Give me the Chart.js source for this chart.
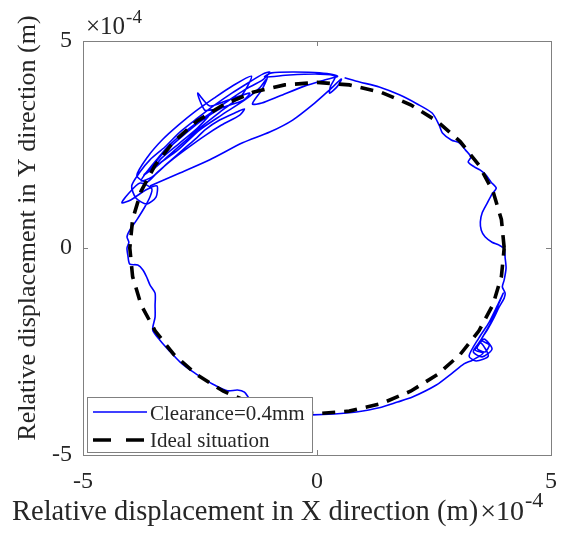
<!DOCTYPE html>
<html>
<head>
<meta charset="utf-8">
<script src="https://cdn.jsdelivr.net/npm/chart.js@4.4.0/dist/chart.umd.min.js"></script>
<style>
  html, body { margin: 0; padding: 0; background: #fff; }
  #wrap { width: 569px; height: 539px; }
</style>
</head>
<body>
<div id="wrap"><canvas id="orbitChart" width="569" height="539"></canvas></div>
<script>
// valeurs en unités de 1e-4 m (le facteur ×10^-4 est affiché à part)
const clearanceX = [
  0.59, 0.91, 1.33, 1.76, 2.14, 2.46, 2.61, 2.68, 2.87, 3.04, 3.17, 3.29, 3.23, 3.36, 3.49, 3.61,
  3.72, 3.83, 3.74, 3.64, 3.53, 3.49, 3.51, 3.59, 3.74, 3.89, 4.00, 4.02, 4.04, 4.00, 3.96, 4.02,
  4.00, 3.89, 3.78, 3.64, 3.51, 3.68, 3.59, 3.42, 3.57, 3.74, 3.53, 3.34, 3.49, 3.66, 3.40, 3.25,
  3.46, 3.68, 3.85, 3.98, 3.89, 3.72, 3.53, 3.38, 3.55, 3.32,
  3.14, 2.87, 2.55, 2.04, 1.72, 1.33, 0.84, 0.37, -0.10, -0.59, -1.01, -1.33, -1.46, -1.55, -1.70, -1.91,
  -2.19, -2.42, -2.68, -2.93, -3.15, -3.36, -3.51, -3.46, -3.46, -3.46, -3.57, -3.64, -3.72, -3.83, -4.00, -4.04,
  -4.06, -4.02, -4.06, -4.00, -3.85, -3.68, -3.57, -3.53,
  -3.78, -4.04, -4.17, -3.98, -3.66, -3.42, -3.44, -3.64, -3.87, -3.96, -3.78, -3.57, -3.25, -2.93, -2.55, -2.19,
  -1.82, -1.44, -1.16, -1.01, -1.16, -1.55, -1.97, -2.40, -2.83, -3.15, -3.40, -3.61, -3.76, -3.53, -3.21, -2.85,
  -2.57, -2.40, -2.08, -1.70, -1.55, -1.65, -2.04, -2.40, -2.76, -3.10, -3.40, -3.64,
  -3.85, -3.62, -3.30, -2.95, -2.60, -2.20, -1.80, -1.40, -1.60, -2.00, -2.45, -2.85, -3.20, -3.50,
  -3.32, -2.93, -2.55, -2.23,
  -2.40, -2.55, -2.29, -1.91, -1.44, -1.57, -2.04, -2.51, -2.97, -3.32, -3.53, -3.70, -3.36, -2.97, -2.51, -2.04,
  -1.55, -1.23, -1.06, -1.18, -1.38, -1.18, -0.80, -0.27, 0.16, 0.44, 0.05, -0.48, -0.97, -1.12, -0.59, 0.05,
  0.39, 0.29, 0.27, 0.44, 0.52,
  0.27, -0.05, -0.52, -1.01, -1.59, -2.29, -2.93, -3.57
];
const clearanceY = [
  4.11, 4.01, 3.89, 3.70, 3.48, 3.26, 2.97, 2.78, 2.61, 2.54, 2.37, 2.20, 2.08, 1.96, 1.88, 1.76,
  1.59, 1.45, 1.30, 1.09, 0.85, 0.63, 0.43, 0.27, 0.14, 0.07, -0.02, -0.24, -0.48, -0.77, -0.94, -1.09,
  -1.21, -1.43, -1.69, -1.98, -2.22, -2.34, -2.51, -2.42, -2.20, -2.44, -2.63, -2.51, -2.29, -2.61, -2.73, -2.61,
  -2.17, -1.79, -1.40, -1.09, -1.33, -1.79, -2.17, -2.46, -2.54, -2.71,
  -2.80, -3.04, -3.31, -3.60, -3.72, -3.86, -3.96, -4.01, -4.03, -4.01, -3.94, -3.79, -3.62, -3.48, -3.43, -3.45,
  -3.31, -3.16, -2.97, -2.75, -2.49, -2.22, -1.98, -1.67, -1.38, -1.09, -0.89, -0.70, -0.53, -0.41, -0.39, -0.19,
  0.00, 0.14, 0.27, 0.43, 0.68, 0.99, 1.23, 1.43,
  1.57, 1.30, 1.09, 1.16, 1.40, 1.50, 1.23, 1.06, 1.21, 1.50, 1.84, 2.13, 2.44, 2.80, 3.14, 3.45,
  3.74, 4.01, 4.20, 4.25, 4.06, 3.82, 3.50, 3.16, 2.80, 2.49, 2.17, 1.88, 1.62, 1.71, 2.03, 2.39,
  2.66, 2.85, 3.09, 3.29, 3.36, 3.21, 2.97, 2.71, 2.42, 2.13, 1.84, 1.59,
  1.75, 2.20, 2.62, 2.98, 3.30, 3.62, 3.92, 4.15, 3.70, 3.35, 2.95, 2.55, 2.20, 1.90,
  2.17, 2.54, 2.90, 3.33,
  3.33, 3.74, 3.43, 3.57, 3.74, 3.57, 3.38, 3.04, 2.61, 2.25, 1.96, 1.76, 2.05, 2.37, 2.85, 3.21,
  3.57, 3.86, 4.11, 3.82, 3.48, 3.50, 3.67, 3.91, 4.06, 4.15, 4.23, 4.25, 4.23, 4.13, 4.18, 4.20,
  4.15, 3.91, 3.74, 3.91, 4.08,
  3.82, 3.50, 3.09, 2.80, 2.54, 2.13, 1.81, 1.50
];
const idealX = [
  4.00, 3.94, 3.76, 3.46, 3.06, 2.57, 2.00, 1.37, 0.69, 0.00, -0.69, -1.37, -2.00, -2.57, -3.06, -3.46, -3.76, -3.94,
  -4.00, -3.94, -3.76, -3.46, -3.06, -2.57, -2.00, -1.37, -0.69, 0.00, 0.69, 1.37, 2.00, 2.57, 3.06, 3.46, 3.76, 3.94, 4.00
];
const idealY = [
  0.00, 0.69, 1.37, 2.00, 2.57, 3.06, 3.46, 3.76, 3.94, 4.00, 3.94, 3.76, 3.46, 3.06, 2.57, 2.00, 1.37, 0.69,
  0.00, -0.69, -1.37, -2.00, -2.57, -3.06, -3.46, -3.76, -3.94, -4.00, -3.94, -3.76, -3.46, -3.06, -2.57, -2.00, -1.37, -0.69, 0.00
];
const tickValues = [-5, 0, 5];
const seriesNames = ['Clearance=0.4mm', 'Ideal situation'];
const xTitle = 'Relative displacement in X direction (m)';
const yTitle = 'Relative displacement in Y direction (m)';
const expBase = '\u00d710';
const expPower = '-4';

const FONT = '"Liberation Serif", "Times New Roman", serif';
const TEXT_COLOR = '#262626';
const BOX_COLOR = '#808080';

function toPoints(xs, ys) {
  return xs.map((x, i) => ({ x: x, y: ys[i] }));
}

const blueSet = {
  label: seriesNames[0],
  data: toPoints(clearanceX, clearanceY),
  showLine: true,
  borderColor: '#0000ff',
  borderWidth: 1.6,
  pointRadius: 0,
  tension: 0.25,
  order: 2
};
const idealSet = {
  label: seriesNames[1],
  data: toPoints(idealX, idealY),
  showLine: true,
  borderColor: '#000000',
  borderWidth: 3.6,
  borderDash: [13, 9],
  pointRadius: 0,
  tension: 0,
  order: 1
};

// texte avec exposant (x10^-4)
function drawExponent(ctx, x, baseline, baseSize, supSize, supRise) {
  ctx.font = baseSize + 'px ' + FONT;
  ctx.textAlign = 'left';
  ctx.textBaseline = 'alphabetic';
  ctx.fillText(expBase, x, baseline);
  const w = ctx.measureText(expBase).width;
  ctx.font = supSize + 'px ' + FONT;
  ctx.fillText(expPower, x + w + 1, baseline - supRise);
}

const framePlugin = {
  id: 'matlabFrame',
  afterDraw(chart) {
    const ctx = chart.ctx;
    const a = chart.chartArea;
    const xs = chart.scales.x;
    const ys = chart.scales.y;
    ctx.save();

    // cadre + petites graduations internes
    ctx.strokeStyle = BOX_COLOR;
    ctx.lineWidth = 1;
    ctx.strokeRect(a.left + 0.5, a.top + 0.5, a.right - a.left, a.bottom - a.top);
    ctx.beginPath();
    tickValues.forEach(v => {
      const px = Math.round(xs.getPixelForValue(v)) + 0.5;
      const py = Math.round(ys.getPixelForValue(v)) + 0.5;
      ctx.moveTo(px, a.bottom); ctx.lineTo(px, a.bottom - 5);
      ctx.moveTo(px, a.top); ctx.lineTo(px, a.top + 5);
      ctx.moveTo(a.left, py); ctx.lineTo(a.left + 5, py);
      ctx.moveTo(a.right, py); ctx.lineTo(a.right - 5, py);
    });
    ctx.stroke();

    ctx.fillStyle = TEXT_COLOR;
    // facteur en haut a gauche
    drawExponent(ctx, 86, 34, 25, 19, 11);

    // titre X + facteur
    ctx.font = '28.5px ' + FONT;
    ctx.textAlign = 'left';
    ctx.textBaseline = 'alphabetic';
    ctx.fillText(xTitle, 12, 520);
    const tw = ctx.measureText(xTitle).width;
    drawExponent(ctx, 12 + tw + 2, 520, 28, 22, 13);

    // titre Y
    ctx.save();
    ctx.translate(35, 228);
    ctx.rotate(-Math.PI / 2);
    ctx.font = '26px ' + FONT;
    ctx.textAlign = 'center';
    ctx.fillText(yTitle, 0, 0);
    ctx.restore();

    // legende
    const lx = 87, ly = 397, lw = 225, lh = 55;
    ctx.fillStyle = '#ffffff';
    ctx.fillRect(lx, ly, lw, lh);
    ctx.strokeStyle = BOX_COLOR;
    ctx.lineWidth = 1;
    ctx.strokeRect(lx + 0.5, ly + 0.5, lw, lh);
    const rows = [[blueSet, 412, 420], [idealSet, 440, 447]];
    rows.forEach(([ds, yLine, yText]) => {
      ctx.save();
      ctx.strokeStyle = ds.borderColor;
      ctx.lineWidth = ds.borderWidth;
      ctx.setLineDash(ds.borderDash ? [18, 15] : []);
      ctx.beginPath();
      ctx.moveTo(93, yLine);
      ctx.lineTo(147, yLine);
      ctx.stroke();
      ctx.restore();
      ctx.fillStyle = TEXT_COLOR;
      ctx.font = '21px ' + FONT;
      ctx.textAlign = 'left';
      ctx.fillText(ds.label, 150, yText);
    });
    ctx.restore();
  }
};

const tickOpts = {
  font: { family: FONT, size: 24 },
  color: TEXT_COLOR,
  autoSkip: false,
  maxRotation: 0,
  callback: v => String(v)
};

new Chart(document.getElementById('orbitChart'), {
  type: 'scatter',
  data: { datasets: [blueSet, idealSet] },
  options: {
    responsive: false,
    animation: false,
    events: [],
    layout: { padding: { left: 0, top: 41, right: 17, bottom: 0 } },
    plugins: {
      legend: { display: false },
      tooltip: { enabled: false }
    },
    scales: {
      x: {
        type: 'linear',
        min: -5,
        max: 5,
        afterBuildTicks: s => { s.ticks = tickValues.map(v => ({ value: v })); },
        afterFit: s => { s.height = 84; },
        ticks: Object.assign({ padding: 12 }, tickOpts),
        grid: { display: false, drawTicks: false },
        border: { display: false }
      },
      y: {
        type: 'linear',
        min: -5,
        max: 5,
        afterBuildTicks: s => { s.ticks = tickValues.map(v => ({ value: v })); },
        afterFit: s => { s.width = 83; },
        ticks: Object.assign({ padding: 11 }, tickOpts),
        grid: { display: false, drawTicks: false },
        border: { display: false }
      }
    }
  },
  plugins: [framePlugin]
});
</script>
</body>
</html>
